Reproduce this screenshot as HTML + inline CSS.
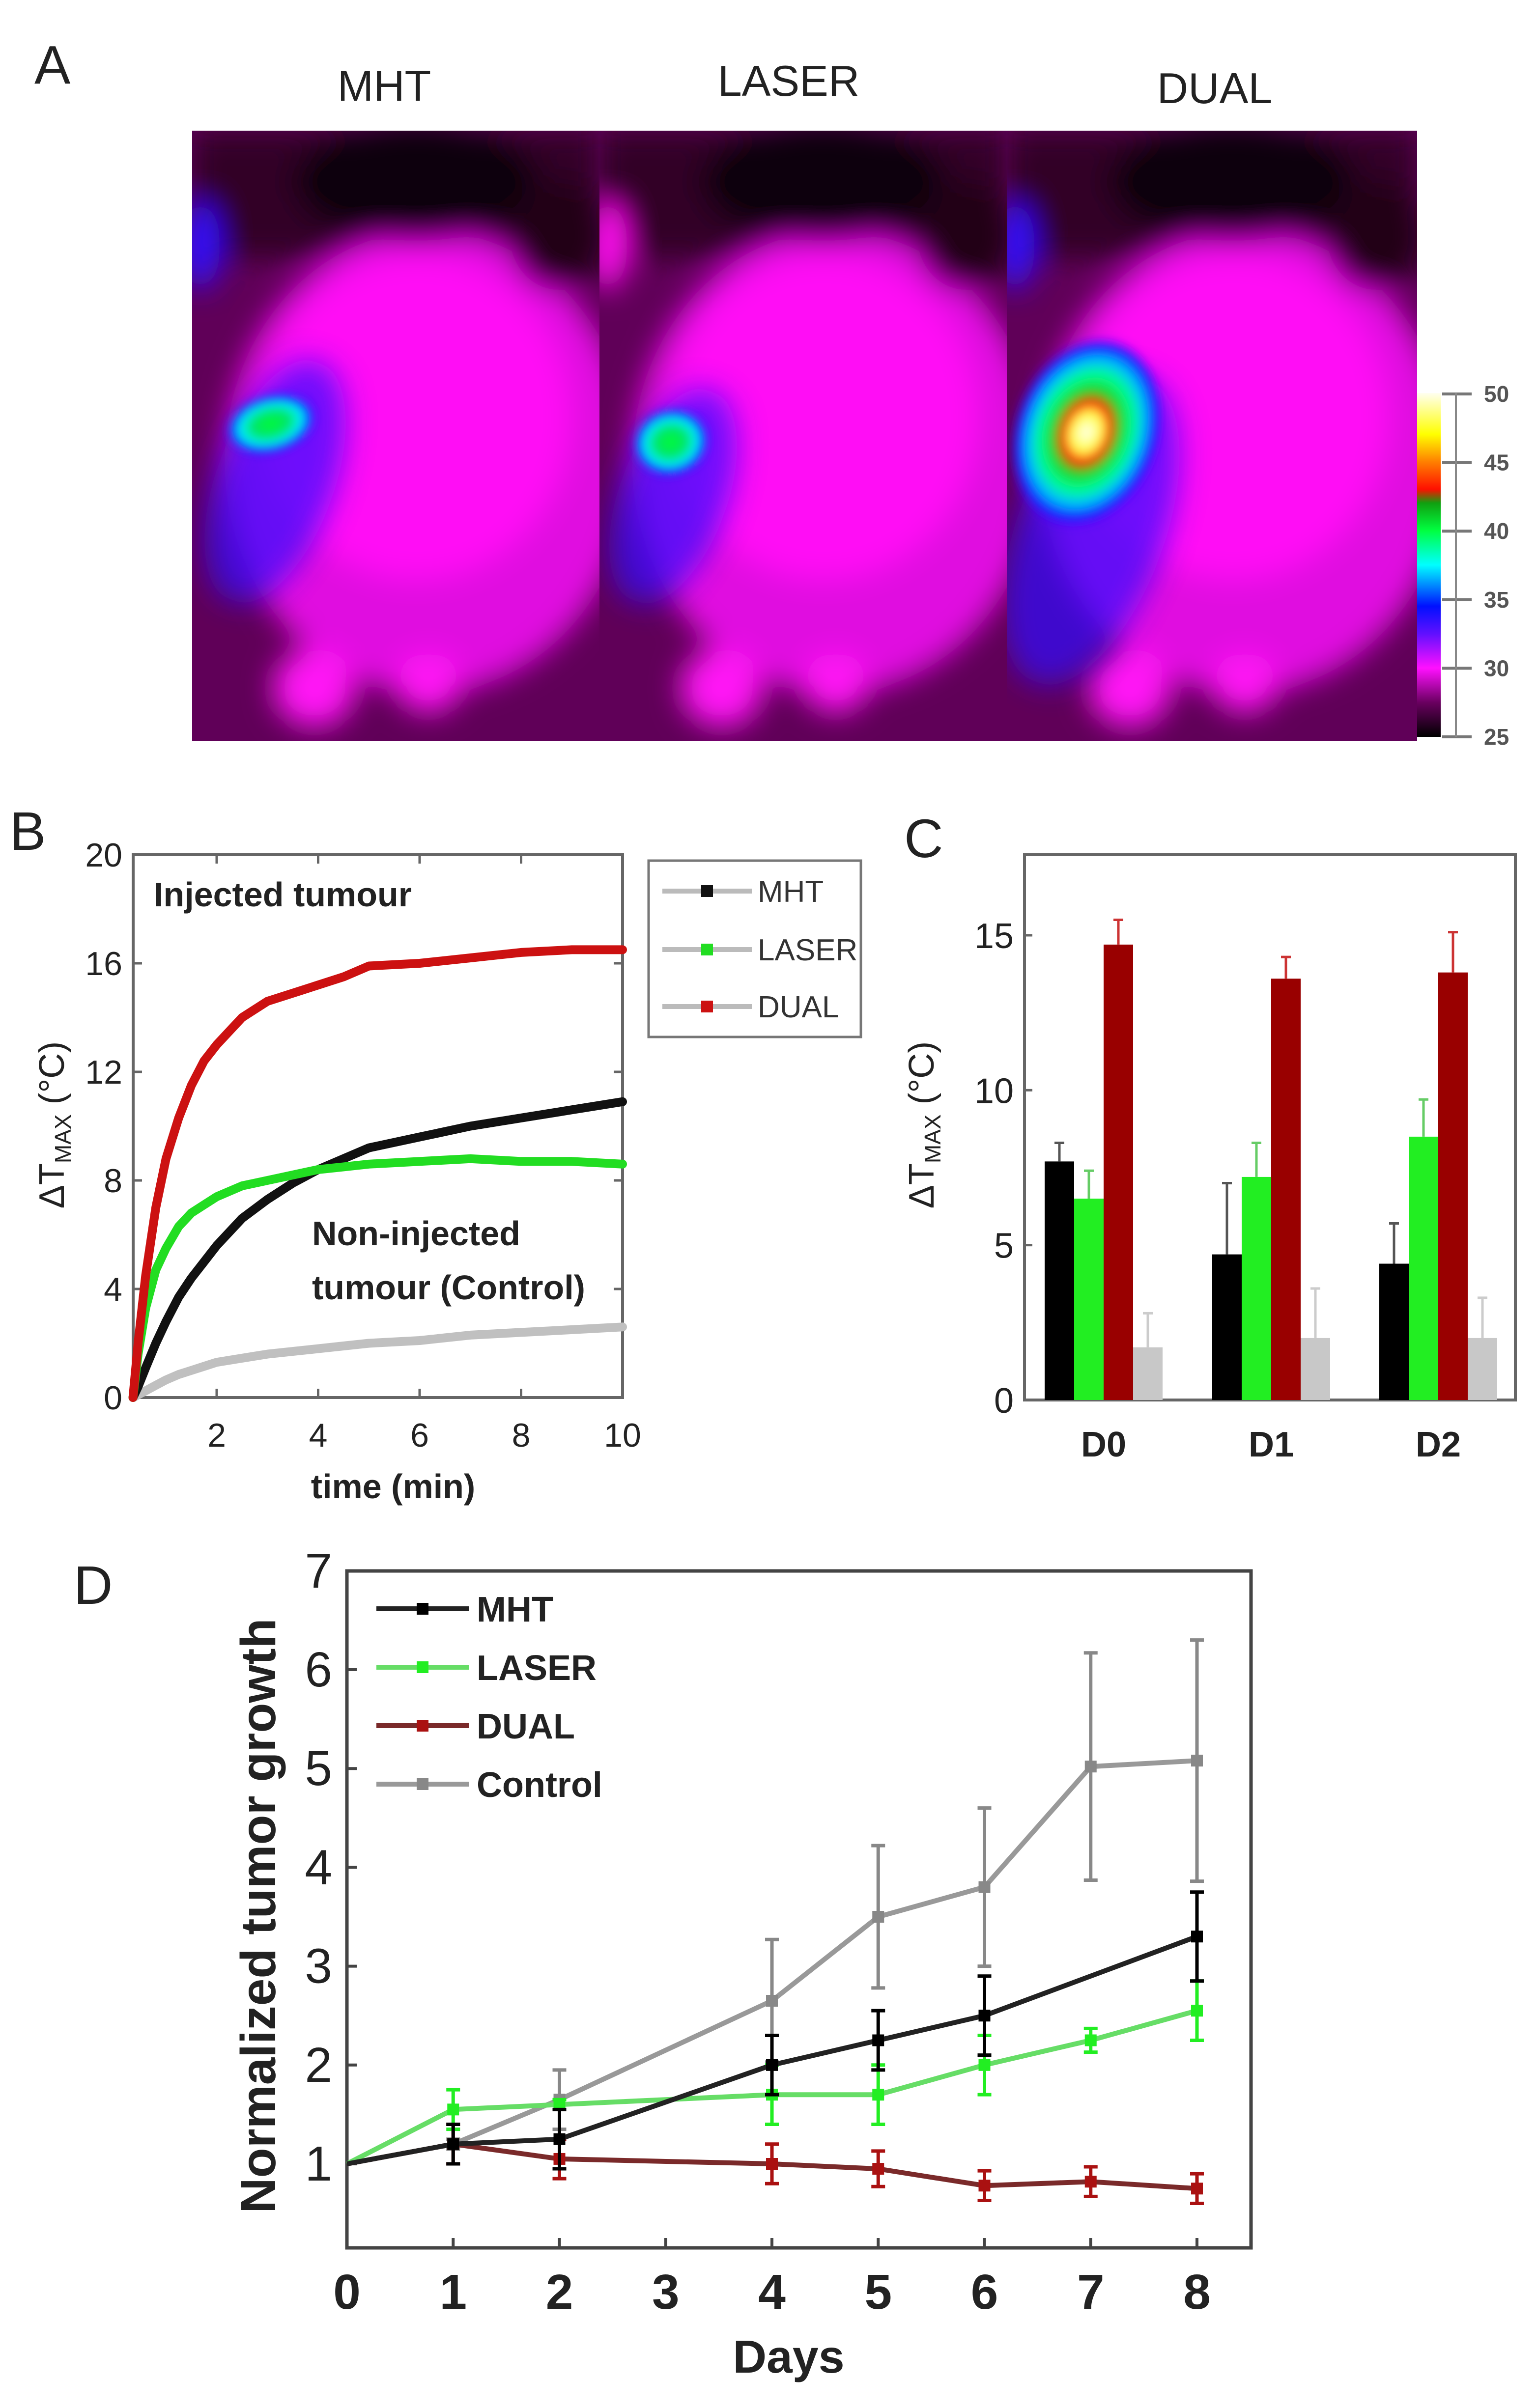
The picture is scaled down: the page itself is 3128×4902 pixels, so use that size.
<!DOCTYPE html>
<html><head><meta charset="utf-8"><style>
html,body{margin:0;padding:0;background:#fff}
svg{display:block}
text{font-family:"Liberation Sans",sans-serif}
</style></head><body>
<svg id="fig" width="3128" height="4902" viewBox="0 0 3128 4902" xmlns="http://www.w3.org/2000/svg">
<defs>
<filter id="blur" x="-30%" y="-30%" width="160%" height="160%"><feGaussianBlur stdDeviation="30"/></filter>
<filter id="blur2" x="-50%" y="-50%" width="200%" height="200%"><feGaussianBlur stdDeviation="10"/></filter>
<linearGradient id="cbar" x1="0" y1="1" x2="0" y2="0">
<stop offset="0" stop-color="#000"/><stop offset="0.1" stop-color="#6a0060"/><stop offset="0.2" stop-color="#ff10ff"/>
<stop offset="0.3" stop-color="#6010ff"/><stop offset="0.38" stop-color="#0010ff"/><stop offset="0.5" stop-color="#00ffff"/>
<stop offset="0.6" stop-color="#00ff40"/><stop offset="0.68" stop-color="#10a010"/><stop offset="0.72" stop-color="#ff1000"/>
<stop offset="0.8" stop-color="#ff8000"/><stop offset="0.88" stop-color="#ffff00"/><stop offset="1" stop-color="#fffff0"/>
</linearGradient>
<radialGradient id="hotA"><stop offset="0" stop-color="#00ff30"/><stop offset="0.45" stop-color="#00e070"/><stop offset="0.65" stop-color="#00ffff"/><stop offset="0.85" stop-color="#0030ff"/><stop offset="1" stop-color="#4020ff" stop-opacity="0"/></radialGradient>
<radialGradient id="hotD"><stop offset="0" stop-color="#ffffff"/><stop offset="0.2" stop-color="#ffff40"/><stop offset="0.32" stop-color="#ff2000"/><stop offset="0.42" stop-color="#20d020"/><stop offset="0.6" stop-color="#00ff90"/><stop offset="0.75" stop-color="#00c0ff"/><stop offset="0.9" stop-color="#1010ff"/><stop offset="1" stop-color="#6010ff" stop-opacity="0"/></radialGradient>
<clipPath id="c0"><rect x="391" y="266" width="829" height="1242"/></clipPath>
<clipPath id="c1"><rect x="1220" y="266" width="829" height="1242"/></clipPath>
<clipPath id="c2"><rect x="2049" y="266" width="835" height="1242"/></clipPath>
</defs>

<text x="70" y="170" font-size="110" fill="#222">A</text>
<text x="782" y="205" font-size="88" fill="#222" text-anchor="middle">MHT</text>
<text x="1605" y="195" font-size="88" fill="#222" text-anchor="middle">LASER</text>
<text x="2472" y="210" font-size="88" fill="#222" text-anchor="middle">DUAL</text>
<g id="thermal"></g>
<rect x="2884" y="800" width="48" height="700" fill="url(#cbar)"/>
<g id="cbticks"></g>

<text x="20" y="1730" font-size="110" fill="#222">B</text>
<g id="chartB"></g>
<text x="1840" y="1745" font-size="110" fill="#222">C</text>
<g id="chartC"></g>
<text x="150" y="3265" font-size="110" fill="#222">D</text>
<g id="chartD"></g>
</svg>
<script>
// ---------- Panel B data ----------
const bTime = [0.35,0.45,0.6,0.8,1,1.25,1.5,1.75,2,2.5,3,3.5,4,4.5,5,6,7,8,9,10];
const bDual = [0,2,4.5,7,8.8,10.3,11.5,12.4,13,14,14.6,14.9,15.2,15.5,15.9,16,16.2,16.4,16.5,16.5];
const bLaser = [0,1.6,3.3,4.7,5.5,6.3,6.8,7.1,7.4,7.8,8.0,8.2,8.4,8.5,8.6,8.7,8.8,8.7,8.7,8.6];
const bMht = [0,0.4,1.1,2.0,2.8,3.7,4.4,5.0,5.6,6.6,7.3,7.9,8.4,8.8,9.2,9.6,10.0,10.3,10.6,10.9];
const bControl = [0,0.1,0.25,0.45,0.65,0.85,1.0,1.15,1.3,1.45,1.6,1.7,1.8,1.9,2.0,2.1,2.3,2.4,2.5,2.6];
const bYTicks = [0,4,8,12,16,20];
const bXTicks = [2,4,6,8,10];
// ---------- Panel C data ----------
const cGroups = ["D0","D1","D2"];
const cMht = [7.7,4.7,4.4];
const cMhtErr = [0.6,2.3,1.3];
const cLaser = [6.5,7.2,8.5];
const cLaserErr = [0.9,1.1,1.2];
const cDual = [14.7,13.6,13.8];
const cDualErr = [0.8,0.7,1.3];
const cControl = [1.7,2.0,2.0];
const cControlErr = [1.1,1.6,1.3];
const cYTicks = [0,5,10,15];
// ---------- Panel D data ----------
const dDaysAll = [0,1,2,4,5,6,7,8];
const dMhtDays = [0,1,2,4,5,6,8];
const dMht = [1,1.2,1.25,2.0,2.25,2.5,3.3];
const dMhtErr = [0,0.2,0.3,0.3,0.3,0.4,0.45];
const dLaser = [1,1.55,1.6,1.7,1.7,2.0,2.25,2.55];
const dLaserErr = [0,0.2,0.05,0.3,0.3,0.3,0.12,0.3];
const dDual = [1,1.2,1.05,1.0,0.95,0.78,0.82,0.75];
const dDualErr = [0,0.2,0.2,0.2,0.18,0.15,0.15,0.15];
const dControl = [1,1.2,1.65,2.65,3.5,3.8,5.02,5.08];
const dControlErr = [0,0.05,0.3,0.62,0.72,0.8,1.15,1.22];
const dYTicks = [1,2,3,4,5,6,7];
const dXTicks = [0,1,2,3,4,5,6,7,8];

const NS="http://www.w3.org/2000/svg";
function mk(parent,tag,attrs,txt){const e=document.createElementNS(NS,tag);for(const k in attrs)e.setAttribute(k,attrs[k]);if(txt!==undefined)e.textContent=txt;parent.appendChild(e);return e;}

// ---------- Thermal images ----------
(function(){
 const g=document.getElementById('thermal');
 const panels=[{x:391,w:829,c:'c0',hot:{cx:551,cy:863,rx:95,ry:60,rot:-15,g:'hotA'},halo:{cx:560,cy:980,rx:120,ry:260}},
               {x:1220,w:829,c:'c1',hot:{cx:1365,cy:900,rx:80,ry:70,rot:-15,g:'hotA'},halo:{cx:1370,cy:1010,rx:110,ry:230}},
               {x:2049,w:835,c:'c2',hot:{cx:2211,cy:880,rx:150,ry:200,rot:20,g:'hotD'},halo:{cx:2220,cy:1080,rx:150,ry:330}}];
 panels.forEach((p,i)=>{
  const pg=mk(g,'g',{'clip-path':'url(#'+p.c+')'});
  
  
  mk(pg,'rect',{x:p.x,y:266,width:p.w,height:1242,fill:'#600058'});
  const b=mk(pg,'g',{filter:'url(#blur)'});
  mk(b,'rect',{x:p.x,y:266,width:p.w,height:260,fill:'#300028'});
  mk(b,'ellipse',{cx:p.x+p.w*0.58,cy:940,rx:p.w*0.5,ry:470,fill:'#e010e0'});
  mk(b,'ellipse',{cx:p.x+p.w*0.55,cy:850,rx:p.w*0.38,ry:330,fill:'#ff10f5'});
  mk(b,'ellipse',{cx:p.x+p.w*0.55,cy:370,rx:p.w*0.3,ry:120,fill:'#0a0008'});
  mk(b,'ellipse',{cx:p.x+p.w*0.9,cy:480,rx:p.w*0.12,ry:110,fill:'#200018'});
  mk(b,'ellipse',{cx:p.x+p.w*0.3,cy:1400,rx:p.w*0.1,ry:80,fill:'#ff18f5'});
  mk(b,'ellipse',{cx:p.x+p.w*0.58,cy:1390,rx:p.w*0.08,ry:60,fill:'#ff18f5'});
  mk(b,'ellipse',{cx:p.x+p.w*0.02,cy:500,rx:40,ry:90,fill:i===1?'#ff10f0':'#3010ff'});
  const hl=p.halo;
  mk(pg,'ellipse',{cx:hl.cx,cy:hl.cy,rx:hl.rx,ry:hl.ry,fill:'#3010ff',opacity:0.7,filter:'url(#blur)',transform:'rotate(20 '+hl.cx+' '+hl.cy+')'});
  const h=p.hot;
  mk(pg,'ellipse',{cx:h.cx,cy:h.cy,rx:h.rx,ry:h.ry,fill:'url(#'+h.g+')',filter:'url(#blur2)',transform:'rotate('+h.rot+' '+h.cx+' '+h.cy+')'});
 });
 const t=document.getElementById('cbticks');
 [50,45,40,35,30,25].forEach(v=>{
  const y=1500-(v-25)/25*698;
  mk(t,'line',{x1:2935,x2:2995,y1:y,y2:y,stroke:'#777','stroke-width':6});
  mk(t,'text',{x:3020,y:y+16,'font-size':46,'font-weight':'bold',fill:'#555'},String(v));
 });
 mk(t,'line',{x1:2963,x2:2963,y1:800,y2:1500,stroke:'#888','stroke-width':4});
})();

// ---------- Panel B ----------
(function(){
 const g=document.getElementById('chartB');
 const L=271,R=1267,T=1740,B=2845, pxu=103.25;
 const X=v=>441+(v-2)*pxu, Y=v=>B-(v/20)*(B-T);
 mk(g,'rect',{x:L,y:T,width:R-L,height:B-T,fill:'none',stroke:'#666','stroke-width':6});
 bYTicks.forEach(v=>{const y=Y(v);
  mk(g,'line',{x1:L,x2:L+18,y1:y,y2:y,stroke:'#666','stroke-width':5});
  mk(g,'line',{x1:R,x2:R-18,y1:y,y2:y,stroke:'#666','stroke-width':5});
  const t=mk(g,'text',{x:L-22,y:y+24,'font-size':68,'text-anchor':'end',fill:'#222'},String(v));
  });
 bXTicks.forEach(v=>{const x=X(v);
  mk(g,'line',{x1:x,x2:x,y1:B,y2:B-18,stroke:'#666','stroke-width':5});
  mk(g,'line',{x1:x,x2:x,y1:T,y2:T+18,stroke:'#666','stroke-width':5});
  const t=mk(g,'text',{x:x,y:B+100,'font-size':68,'text-anchor':'middle',fill:'#222'},String(v));
  });
 const series=[[bControl,'#c0c0c0'],[bMht,'#111'],[bLaser,'#22dd22'],[bDual,'#cc1111']];
 series.forEach(([arr,col],i)=>{
  const d=arr.map((v,j)=>(j?'L':'M')+X(bTime[j]).toFixed(1)+' '+Y(v).toFixed(1)).join(' ');
  const p=mk(g,'path',{d:d,fill:'none',stroke:col,'stroke-width':18,'stroke-linejoin':'round','stroke-linecap':'round'});
  
  
 });
 mk(g,'text',{x:313,y:1845,'font-size':70,'font-weight':'bold',fill:'#222'},'Injected tumour');
 mk(g,'text',{x:635,y:2535,'font-size':70,'font-weight':'bold',fill:'#222'},'Non-injected');
 mk(g,'text',{x:635,y:2645,'font-size':70,'font-weight':'bold',fill:'#222'},'tumour (Control)');
 mk(g,'text',{x:800,y:3050,'font-size':70,'font-weight':'bold',fill:'#222','text-anchor':'middle'},'time (min)');
 const yt=mk(g,'text',{x:0,y:0,'font-size':72,fill:'#222','text-anchor':'middle',transform:'translate(130 2290) rotate(-90)'});
 
 yt.innerHTML='ΔT<tspan font-size="46" dy="14">MAX</tspan><tspan dy="-14"> (°C)</tspan>';
 const lg=mk(g,'g',{});
 
 mk(lg,'rect',{x:1320,y:1752,width:432,height:359,fill:'#fff',stroke:'#777','stroke-width':5});
 [['MHT','#111',1814],['LASER','#22dd22',1933],['DUAL','#cc1111',2049]].forEach(([n,c,y])=>{
  mk(lg,'line',{x1:1348,x2:1530,y1:y,y2:y,stroke:'#bbb','stroke-width':10});
  mk(lg,'rect',{x:1427,y:y-12,width:24,height:24,fill:c});
  mk(lg,'text',{x:1542,y:y+22,'font-size':62,fill:'#333'},n);
 });
})();

// ---------- Panel C ----------
(function(){
 const g=document.getElementById('chartC');
 const L=2085,R=3084,T=1740,B=2850, ymax=17.6;
 const Y=v=>B-(v/ymax)*(B-T);
 const centers=[2246,2587,2927], bw=60;
 mk(g,'rect',{x:L,y:T,width:R-L,height:B-T,fill:'none',stroke:'#666','stroke-width':6});
 cYTicks.forEach(v=>{const y=Y(v);
  mk(g,'line',{x1:L,x2:L+16,y1:y,y2:y,stroke:'#666','stroke-width':5});
  const t=mk(g,'text',{x:L-22,y:y+26,'font-size':72,'text-anchor':'end',fill:'#222'},String(v));
  });
 const ser=[[cMht,cMhtErr,'#000','#555'],[cLaser,cLaserErr,'#22ee22','#66cc66'],[cDual,cDualErr,'#990000','#cc3333'],[cControl,cControlErr,'#c8c8c8','#cccccc']];
 cGroups.forEach((gname,i)=>{
  ser.forEach(([vals,errs,col,ec],k)=>{
   const x=centers[i]-2*bw+k*bw;
   const r=mk(g,'rect',{x:x,y:Y(vals[i]),width:bw,height:B-Y(vals[i]),fill:col});
   
   mk(g,'line',{x1:x+bw/2,x2:x+bw/2,y1:Y(vals[i]),y2:Y(vals[i]+errs[i]),stroke:ec,'stroke-width':5});
   mk(g,'line',{x1:x+bw/2-10,x2:x+bw/2+10,y1:Y(vals[i]+errs[i]),y2:Y(vals[i]+errs[i]),stroke:ec,'stroke-width':5});
  });
  const t=mk(g,'text',{x:centers[i],y:2965,'font-size':72,'font-weight':'bold','text-anchor':'middle',fill:'#222'},gname);
  
 });
 const yt=mk(g,'text',{x:0,y:0,'font-size':72,fill:'#222','text-anchor':'middle',transform:'translate(1900 2290) rotate(-90)'});
 
 yt.innerHTML='ΔT<tspan font-size="46" dy="14">MAX</tspan><tspan dy="-14"> (°C)</tspan>';
})();

// ---------- Panel D ----------
(function(){
 const g=document.getElementById('chartD');
 const L=706,R=2546,T=3198,B=4576;
 const X=v=>706+v*216.25, Y=v=>4405-(v-1)*201.2;
 mk(g,'rect',{x:L,y:T,width:R-L,height:B-T,fill:'none',stroke:'#444','stroke-width':7});
 dYTicks.forEach(v=>{const y=Y(v);
  mk(g,'line',{x1:L,x2:L+20,y1:y,y2:y,stroke:'#444','stroke-width':6});
  const t=mk(g,'text',{x:L-30,y:y+34,'font-size':100,'text-anchor':'end',fill:'#222'},String(v));
  });
 dXTicks.forEach(v=>{const x=X(v);
  mk(g,'line',{x1:x,x2:x,y1:B,y2:B-20,stroke:'#444','stroke-width':6});
  const t=mk(g,'text',{x:x,y:4700,'font-size':100,'font-weight':'bold','text-anchor':'middle',fill:'#222'},String(v));
  });
 const ser=[['control',dDaysAll,dControl,dControlErr,'#999','#888'],['dual',dDaysAll,dDual,dDualErr,'#7a2a2a','#aa1111'],['laser',dDaysAll,dLaser,dLaserErr,'#66dd66','#22ee22'],['mht',dMhtDays,dMht,dMhtErr,'#222','#000']];
 ser.forEach(([n,xs,ys,es,lc,mc])=>{
  const d=ys.map((v,j)=>(j?'L':'M')+X(xs[j]).toFixed(1)+' '+Y(v).toFixed(1)).join(' ');
  const p=mk(g,'path',{d:d,fill:'none',stroke:lc,'stroke-width':10});
  
  ys.forEach((v,j)=>{ if(j===0) return; const x=X(xs[j]);
   mk(g,'line',{x1:x,x2:x,y1:Y(v-es[j]),y2:Y(v+es[j]),stroke:mc,'stroke-width':7});
   mk(g,'line',{x1:x-14,x2:x+14,y1:Y(v-es[j]),y2:Y(v-es[j]),stroke:mc,'stroke-width':7});
   mk(g,'line',{x1:x-14,x2:x+14,y1:Y(v+es[j]),y2:Y(v+es[j]),stroke:mc,'stroke-width':7});
   const m=mk(g,'rect',{x:x-12,y:Y(v)-12,width:24,height:24,fill:mc});
   
  });
 });
 const lg=mk(g,'g',{});
 
 [['MHT','#222','#000',3275],['LASER','#66dd66','#22ee22',3394],['DUAL','#7a2a2a','#aa1111',3513],['Control','#999','#888',3632]].forEach(([n,lc,mc,y])=>{
  mk(lg,'line',{x1:766,x2:954,y1:y,y2:y,stroke:lc,'stroke-width':10});
  mk(lg,'rect',{x:848,y:y-12,width:24,height:24,fill:mc});
  mk(lg,'text',{x:970,y:y+26,'font-size':72,'font-weight':'bold',fill:'#222'},n);
 });
 mk(g,'text',{x:1605,y:4830,'font-size':95,'font-weight':'bold','text-anchor':'middle',fill:'#222'},'Days');
 const yt=mk(g,'text',{x:0,y:0,'font-size':100,'font-weight':'bold','text-anchor':'middle',fill:'#222',transform:'translate(560 3900) rotate(-90)'},'Normalized tumor growth');
 
})();
</script>
</body></html>
